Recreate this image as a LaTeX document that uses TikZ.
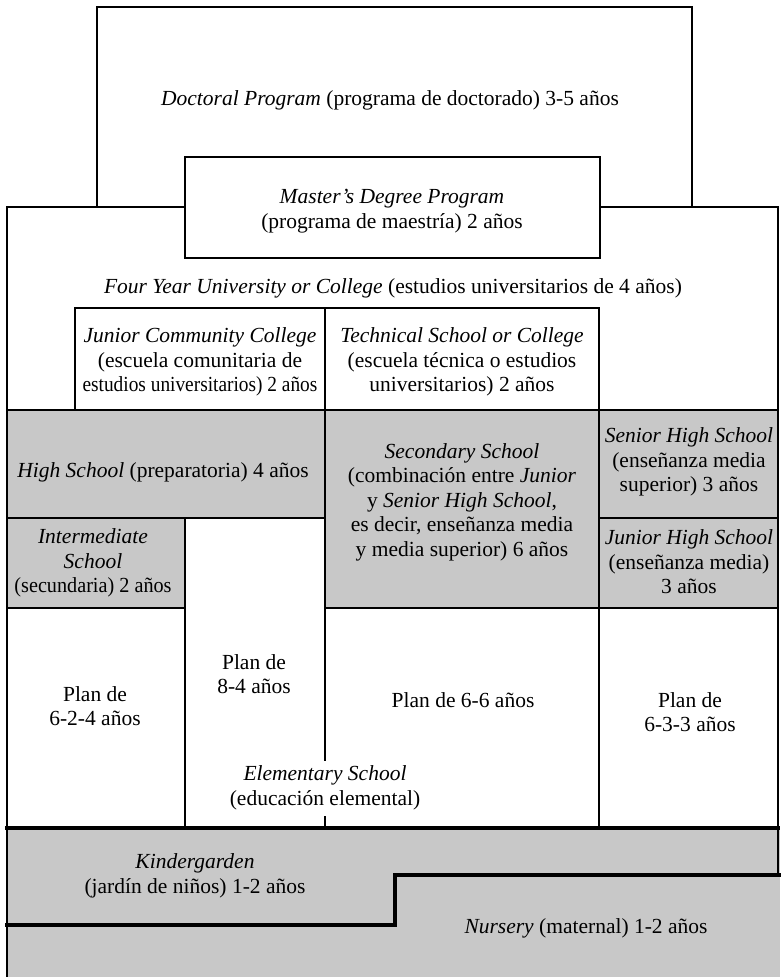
\documentclass[tikz,border=0pt]{standalone}
\usepackage{fontspec}
\setmainfont{Liberation Serif}
\definecolor{gfill}{RGB}{200,200,200}
\newcommand{\sqz}[2]{\scalebox{#1}[1]{#2}}
\begin{document}
\begin{tikzpicture}[x=1pt,y=-1pt,
  wall/.style={line width=2.6pt,line cap=rect},
  heavy/.style={line width=3.2pt,line cap=rect},
  lbl/.style={align=center,font=\fontsize{21.5}{24.5}\selectfont,inner sep=0pt}]
\useasboundingbox (0,0) rectangle (780,977);
% grey fills
\fill[gfill] (7,410) rectangle (778,518);
\fill[gfill] (7,518) rectangle (185,608);
\fill[gfill] (325,518) rectangle (778,608);
\fill[gfill] (7,828) rectangle (780,977);
% doctoral box
\draw[wall] (97,207) -- (97,7) -- (692,7) -- (692,207);
% main box
\draw[wall] (7,977) -- (7,207) -- (778,207) -- (778,875);
% master box
\filldraw[wall,fill=white] (185,157) rectangle (600,258);
% two-year colleges
\draw[wall] (75,410) -- (75,308) -- (599,308) -- (599,828);
\draw[wall] (325,308) -- (325,760);
\draw[wall] (325,817) -- (325,828);
% secondary band
\draw[wall] (7,410) -- (778,410);
\draw[wall] (7,518) -- (325,518);
\draw[wall] (599,518) -- (778,518);
\draw[wall] (7,608) -- (185,608);
\draw[wall] (325,608) -- (778,608);
\draw[wall] (185,518) -- (185,828);
% pre-school
\draw[heavy] (7,828) -- (778,828);
\draw[heavy] (7,925) -- (395,925) -- (395,875) -- (780,875);
% labels
\node[lbl] (doc) at (390,100) {\textit{Doctoral Program} (programa de doctorado) 3-5 años};
\node[lbl] (mas) at (392,211) {\textit{Master's Degree Program}\\(programa de maestría) 2 años};
\node[lbl] (uni) at (393,288) {\textit{Four Year University or College} (estudios universitarios de 4 años)};
\node[lbl] (jcc) at (200,362) {\textit{Junior Community College}\\(escuela comunitaria de\\\sqz{0.9}{estudios universitarios) 2 años}};
\node[lbl] (tec) at (462,362) {\textit{Technical School or College}\\(escuela técnica o estudios\\universitarios) 2 años};
\node[lbl] (hs) at (163,472) {\textit{High School} (preparatoria) 4 años};
\node[lbl] (int) at (93,563) {\textit{Intermediate}\\\textit{School}\\\sqz{0.94}{(secundaria) 2 años}};
\node[lbl] (sec) at (462,502) {\textit{Secondary School}\\(combinación entre \textit{Junior}\\y \textit{Senior High School},\\es decir, enseñanza media\\y media superior) 6 años};
\node[lbl] (shs) at (689,462) {\textit{Senior High School}\\(enseñanza media\\superior) 3 años};
\node[lbl] (jhs) at (689,562) {\textit{Junior High School}\\(enseñanza media)\\3 años};
\node[lbl] (p624) at (95,706) {Plan de\\6-2-4 años};
\node[lbl] (p84) at (254,674) {Plan de\\8-4 años};
\node[lbl] (p66) at (463,700) {Plan de 6-6 años};
\node[lbl] (p633) at (690,712) {Plan de\\6-3-3 años};
\node[lbl] (ele) at (325,788) {\textit{Elementary School}\\(educación elemental)};
\node[lbl] (kin) at (195,876) {\textit{Kindergarden}\\(jardín de niños) 1-2 años};
\node[lbl] (nur) at (586,928) {\textit{Nursery} (maternal) 1-2 años};
\end{tikzpicture}
\end{document}
